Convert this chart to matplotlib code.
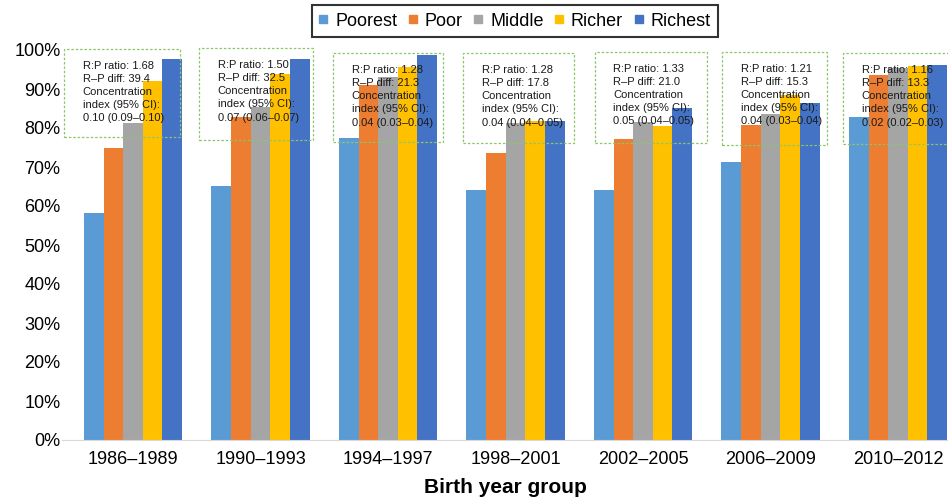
import matplotlib
matplotlib.use("Agg")
import matplotlib.pyplot as plt
from matplotlib.lines import Line2D
from matplotlib.patches import Rectangle
import numpy as np

plt.rcParams['font.family'] = ['Liberation Sans', 'DejaVu Sans']

groups = ["1986–1989", "1990–1993", "1994–1997", "1998–2001",
          "2002–2005", "2006–2009", "2010–2012"]
quintiles = ["Poorest", "Poor", "Middle", "Richer", "Richest"]
colors = ["#5B9BD5", "#ED7D31", "#A5A5A5", "#FFC000", "#4472C4"]

poorest = [58.2, 65.1, 77.4, 64.1, 64.1, 71.3, 82.8]
poor = [74.9, 82.8, 91.0, 73.6, 77.2, 80.8, 93.6]
middle = [81.3, 85.4, 93.1, 81.3, 81.5, 83.6, 95.4]
richer = [92.1, 93.8, 95.6, 81.8, 80.5, 88.5, 95.9]
richest = [97.7, 97.7, 98.7, 81.8, 85.1, 86.4, 96.2]

notes = [
    "R:P ratio: 1.68\nR–P diff: 39.4\nConcentration\nindex (95% CI):\n0.10 (0.09–0.10)",
    "R:P ratio: 1.50\nR–P diff: 32.5\nConcentration\nindex (95% CI):\n0.07 (0.06–0.07)",
    "R:P ratio: 1.28\nR–P diff: 21.3\nConcentration\nindex (95% CI):\n0.04 (0.03–0.04)",
    "R:P ratio: 1.28\nR–P diff: 17.8\nConcentration\nindex (95% CI):\n0.04 (0.04–0.05)",
    "R:P ratio: 1.33\nR–P diff: 21.0\nConcentration\nindex (95% CI):\n0.05 (0.04–0.05)",
    "R:P ratio: 1.21\nR–P diff: 15.3\nConcentration\nindex (95% CI):\n0.04 (0.03–0.04)",
    "R:P ratio: 1.16\nR–P diff: 13.3\nConcentration\nindex (95% CI):\n0.02 (0.02–0.03)",
]

# box placement relative to group centre (x in category units, y in %)
box_x0 = [-0.54, -0.48, -0.43, -0.41, -0.38, -0.38, -0.43]
box_w = [0.91, 0.89, 0.86, 0.87, 0.88, 0.82, 0.86]
box_top = [100.3, 100.5, 99.2, 99.2, 99.5, 99.5, 99.2]
box_bot = [77.7, 76.9, 76.4, 76.2, 76.2, 75.6, 75.9]

fig = plt.figure(figsize=(9.48, 5.04), dpi=100)
ax = fig.add_axes([62 / 948, 1 - 440 / 504, 1 - 62 / 948, 390 / 504])

x = np.arange(len(groups))
bw = 0.154
series = [poorest, poor, middle, richer, richest]
for i, (vals, c) in enumerate(zip(series, colors)):
    ax.bar(x + (i - 2) * bw, vals, bw, color=c, label=quintiles[i], zorder=2)

for i, txt in enumerate(notes):
    rect = Rectangle((x[i] + box_x0[i], box_bot[i]), box_w[i],
                     box_top[i] - box_bot[i], fill=False,
                     edgecolor="#8CC66A", linestyle=(0, (2, 1.5)), linewidth=0.9,
                     zorder=3, clip_on=False)
    ax.add_patch(rect)
    ax.text(x[i] + box_x0[i] + 0.145, box_top[i] - 3.0, txt, fontsize=8,
            va="top", ha="left", linespacing=1.4, color="#1a1a1a", zorder=4)

ax.set_xlim(-0.557, 6.392)
ax.set_ylim(0, 100)
ax.set_xticks(x)
ax.set_xticklabels(groups, fontsize=13)
ax.set_yticks(np.arange(0, 101, 10))
ax.set_yticklabels([f"{v}%" for v in range(0, 101, 10)], fontsize=13)
ax.tick_params(axis="both", length=0, colors="#000000")
ax.tick_params(axis="x", pad=8)
ax.tick_params(axis="y", pad=1)
for s in ["top", "right", "left"]:
    ax.spines[s].set_visible(False)
ax.spines["bottom"].set_color("#D9D9D9")
ax.set_xlabel("Birth year group", fontsize=15, fontweight="bold", labelpad=7)

handles = [Line2D([], [], marker="s", linestyle="none", markersize=6,
                  color=c) for c in colors]
leg = fig.legend(handles, quintiles, loc="center", ncol=5,
                 bbox_to_anchor=(0.543, 0.958), fontsize=13, frameon=True,
                 fancybox=False, handlelength=0.5, handletextpad=0.4,
                 columnspacing=0.62, borderpad=0.4, borderaxespad=0)
leg.get_frame().set_edgecolor("black")
leg.get_frame().set_linewidth(1.5)

fig.savefig("out.png", dpi=100)
